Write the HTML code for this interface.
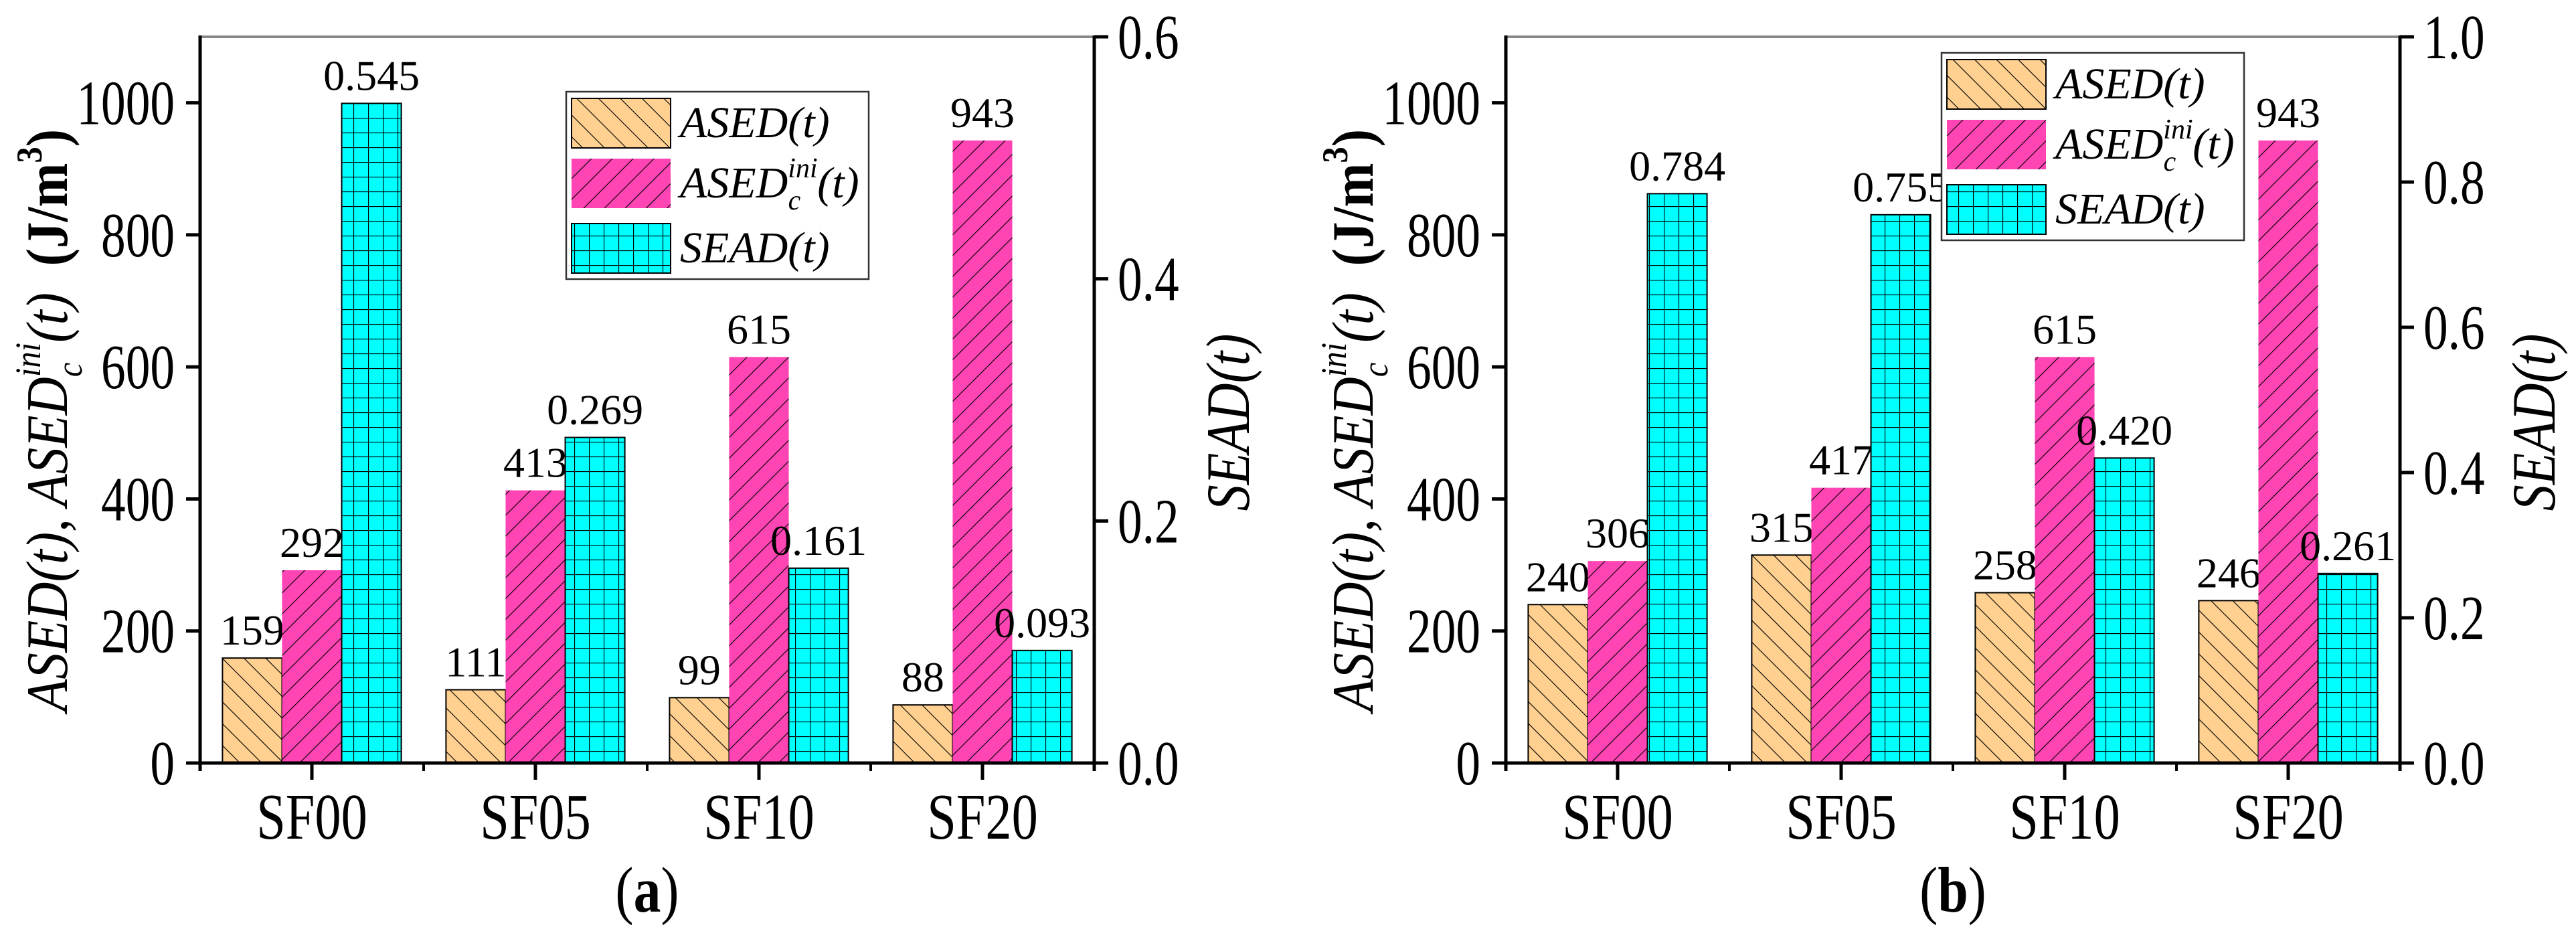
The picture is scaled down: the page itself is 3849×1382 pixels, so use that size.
<!DOCTYPE html>
<html><head><meta charset="utf-8"><style>
html,body{margin:0;padding:0;background:#fff}
svg{display:block}
text{font-family:"Liberation Serif",serif;fill:#000}
</style></head><body>
<svg id="chart" width="3849" height="1382" viewBox="0 0 3849 1382" xmlns="http://www.w3.org/2000/svg">
<defs>
<pattern id="hatchA" patternUnits="userSpaceOnUse" width="23" height="23" patternTransform="rotate(45)">
<rect width="23" height="23" fill="#FFD090"/><line x1="0" y1="0" x2="23" y2="0" stroke="#000" stroke-width="2.2"/></pattern>
<pattern id="hatchB" patternUnits="userSpaceOnUse" width="22" height="22" patternTransform="rotate(-45)">
<rect width="22" height="22" fill="#FF44B4"/><line x1="0" y1="0" x2="22" y2="0" stroke="#000" stroke-width="2.2"/></pattern>
<pattern id="gridC" patternUnits="userSpaceOnUse" width="22" height="22">
<rect width="22" height="22" fill="#00FFFF"/><path d="M0 0H22M0 0V22" stroke="#000" stroke-width="2.2"/></pattern>
</defs>
<g id="root"></g>
</svg>
<script>
const categories = ["SF00","SF05","SF10","SF20"];
const asedA = [159,111,99,88];
const asedcA = [292,413,615,943];
const seadA = [0.545,0.269,0.161,0.093];
const seadLabelsA = ["0.545","0.269","0.161","0.093"];
const asedB = [240,315,258,246];
const asedcB = [306,417,615,943];
const seadB = [0.784,0.755,0.420,0.261];
const seadLabelsB = ["0.784","0.755","0.420","0.261"];
const leftTicks = [0,200,400,600,800,1000];
const rightTicksA = ["0.0","0.2","0.4","0.6"];
const rightTicksB = ["0.0","0.2","0.4","0.6","0.8","1.0"];

const NS="http://www.w3.org/2000/svg";
const root=document.getElementById('root');
function mk(tag,attrs,parent){const e=document.createElementNS(NS,tag);for(const k in attrs)e.setAttribute(k,attrs[k]);(parent||root).appendChild(e);return e;}

function panel(ox, ased, asedc, sead, seadLabels, rTicks, rMax, legX, legY, letter){
  const g=mk('g',{});
  
  
  const L=ox+299, R=ox+1635, T=55, B=1140;
  const yL=v=>B-(v/1100)*(B-T);
  const yR=v=>B-(v/rMax)*(B-T);
  const cw=(R-L)/categories.length, bw=cw*0.8/3;
  categories.forEach((c,i)=>{
    const x0=L+cw*i+cw*0.1;
    const specs=[[ased[i],yL,'url(#hatchA)',String(ased[i]),'ased'],[asedc[i],yL,'url(#hatchB)',String(asedc[i]),'asedc'],[sead[i],yR,'url(#gridC)',seadLabels[i],'sead']];
    specs.forEach((s,j)=>{
      const x=x0+bw*j, y=s[1](s[0]);
      const r=mk('rect',{x:x,y:y,width:bw,height:B-y,fill:s[2],stroke:j==1?'none':'#000','stroke-width':2},g);
      
      
      const t=mk('text',{x:x+bw/2,y:y-20,'text-anchor':'middle','font-size':64},g);
      t.textContent=s[3];
      
      
    });
  });
  mk('line',{x1:L,y1:T,x2:R,y2:T,stroke:'#888','stroke-width':4},g);
  const ax=mk('line',{x1:L,y1:T-2,x2:L,y2:B+12,stroke:'#000','stroke-width':5},g);
  
  const ar=mk('line',{x1:R,y1:T-2,x2:R,y2:B+12,stroke:'#000','stroke-width':5},g);
  
  const xb=mk('line',{x1:L-20,y1:B,x2:R,y2:B,stroke:'#000','stroke-width':5},g);
  
  leftTicks.forEach(v=>{
    const y=yL(v);
    mk('line',{x1:L-21,y1:y,x2:L,y2:y,stroke:'#000','stroke-width':5},g);
    const t=mk('text',{transform:`translate(${L-38},${y+32}) scale(0.78,1)`,'text-anchor':'end','font-size':94},g);
    t.textContent=v;
    
    
  });
  rTicks.forEach(s=>{
    const y=yR(parseFloat(s));
    mk('line',{x1:R,y1:y,x2:R+21,y2:y,stroke:'#000','stroke-width':5},g);
    const t=mk('text',{transform:`translate(${R+35},${y+32}) scale(0.78,1)`,'font-size':94},g);
    t.textContent=s;
    
    
  });
  categories.forEach((c,i)=>{
    const cx=L+cw*(i+0.5);
    mk('line',{x1:cx,y1:B,x2:cx,y2:B+25,stroke:'#000','stroke-width':5},g);
    mk('line',{x1:L+cw*(i+1),y1:B,x2:L+cw*(i+1),y2:B+12,stroke:'#000','stroke-width':4},g);
    const t=mk('text',{transform:`translate(${cx},${B+113}) scale(0.8,1)`,'text-anchor':'middle','font-size':98},g);
    t.textContent=c;
    
    
  });
  const yt=mk('text',{transform:`translate(${ox+100},628) rotate(-90) scale(0.9,1)`,'text-anchor':'middle','font-size':88},g);
  
  
  yt.innerHTML='<tspan font-style="italic">ASED(t), ASED</tspan><tspan font-style="italic" font-size="54" dy="-40">ini</tspan><tspan font-style="italic" font-size="54" dx="-57" dy="62">c</tspan><tspan font-style="italic" dx="33" dy="-22">(t)</tspan><tspan font-weight="bold" xml:space="preserve">  (J/m</tspan><tspan font-weight="bold" font-size="54" dy="-38">3</tspan><tspan font-weight="bold" dy="38">)</tspan>';
  const rt=mk('text',{transform:`translate(${ox+1866},631) rotate(-90) scale(0.85,1)`,'text-anchor':'middle','font-size':92,'font-style':'italic'},g);
  rt.textContent='SEAD(t)';
  
  
  const lg=mk('g',{},g);
  
  
  mk('rect',{x:legX,y:legY,width:452,height:280,fill:'#fff',stroke:'#333','stroke-width':2.5},lg);
  const fills=['url(#hatchA)','url(#hatchB)','url(#gridC)'];
  const names=['ased','asedc','sead'];
  [10,100,197].forEach((dy,k)=>{
    mk('rect',{x:legX+8,y:legY+dy,width:148,height:74,fill:fills[k],stroke:k==1?'none':'#000','stroke-width':2},lg);
    const t=mk('text',{x:legX+170,y:legY+dy+58,'font-size':66,'font-style':'italic'},lg);
    
    
    if(k==0)t.textContent='ASED(t)';
    else if(k==1)t.innerHTML='ASED<tspan font-size="42" dy="-30">ini</tspan><tspan font-size="42" dx="-44" dy="48">c</tspan><tspan dy="-18" dx="25">(t)</tspan>';
    else t.textContent='SEAD(t)';
  });
  const pl=mk('text',{transform:`translate(${(L+R)/2},1362) scale(0.85,1)`,'text-anchor':'middle','font-size':96},g);
  pl.innerHTML='(<tspan font-weight="bold">'+letter+'</tspan>)';
  
  
}
panel(0, asedA, asedcA, seadA, seadLabelsA, rightTicksA, 0.6, 846, 137, 'a');
panel(1951, asedB, asedcB, seadB, seadLabelsB, rightTicksB, 1.0, 2901, 79, 'b');
</script>
</body></html>
